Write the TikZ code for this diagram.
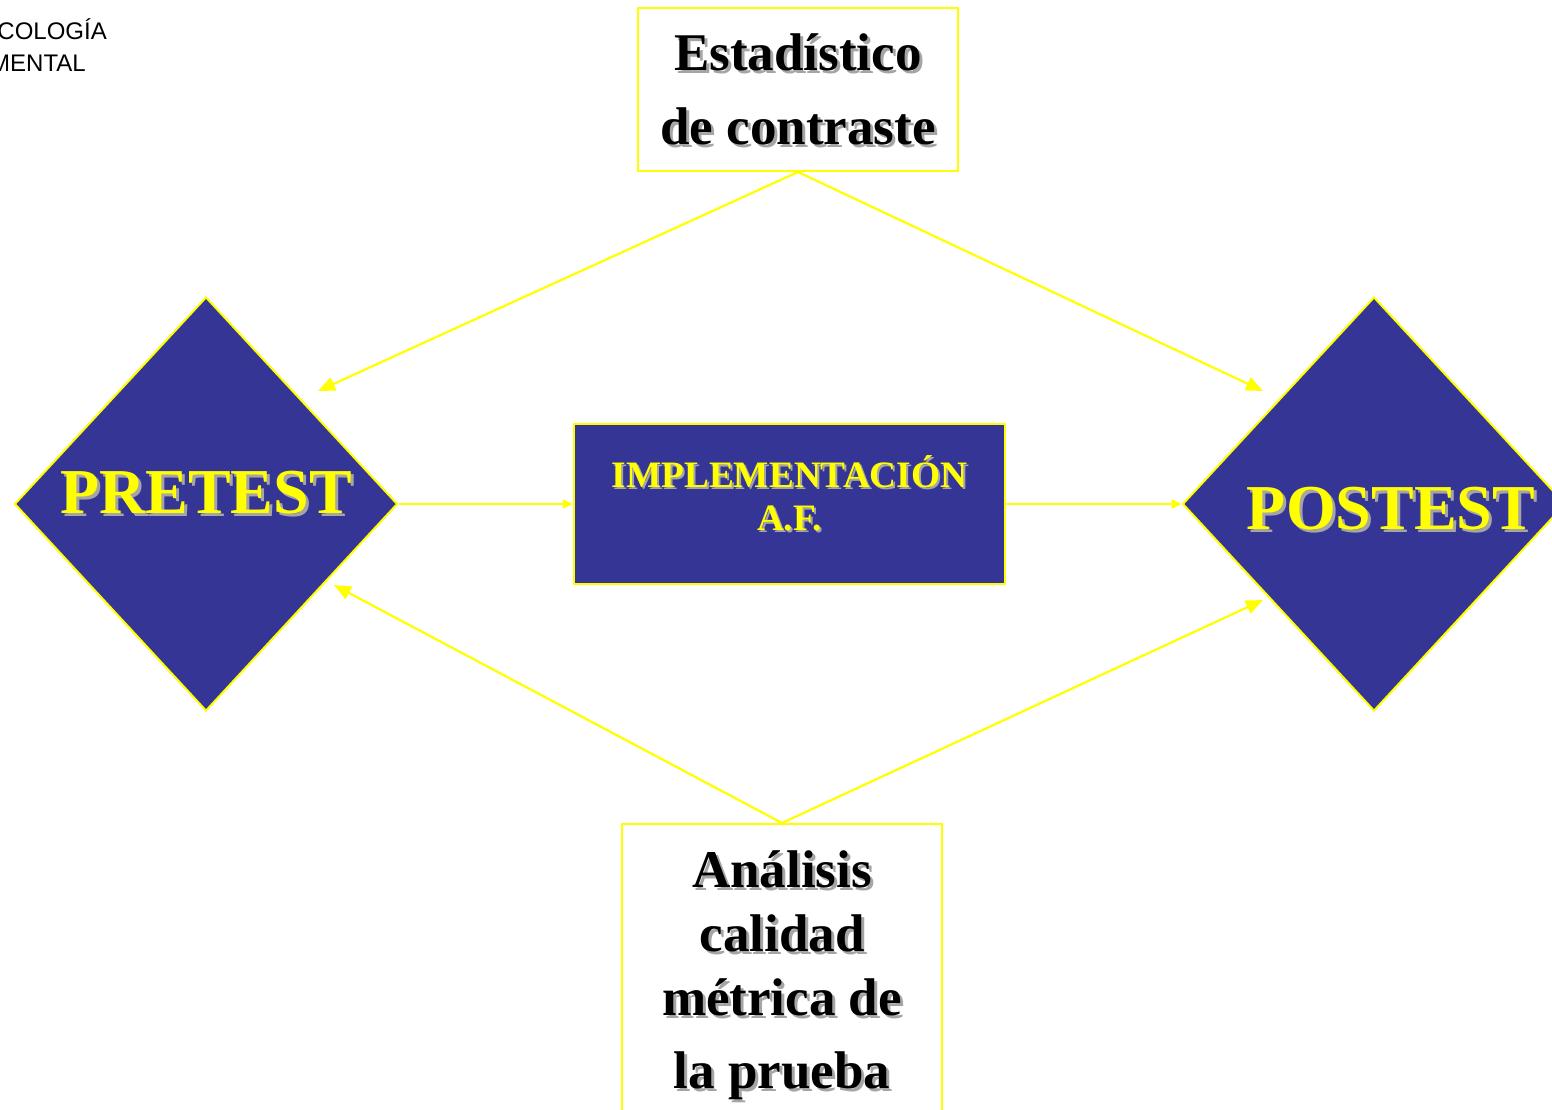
\documentclass[tikz,border=0pt]{standalone}
\usepackage{fontspec}
\setmainfont{Liberation Serif}
\newfontfamily\sansf{Liberation Sans}
\usetikzlibrary{arrows.meta,shapes.geometric}
\definecolor{dblue}{RGB}{53,53,150}
\definecolor{yel}{RGB}{255,255,0}
\definecolor{shgray}{RGB}{165,165,165}
\newcommand\shadowed[3]{\leavevmode\rlap{\kern#2\raisebox{-#2}{\color{shgray}#3}}{\color{#1}#3}}
\tikzset{
  conn/.style={draw=yel, line width=2.2pt},
  bigtip/.style={-{Triangle[length=17pt,width=14pt]}},
  smalltip/.style={-{Triangle[length=10pt,width=9pt]}},
  wbox/.style={draw=yel, line width=2pt, fill=white, rectangle, inner sep=0pt},
  bbox/.style={draw=yel, line width=2.5pt, fill=dblue, rectangle, inner sep=0pt},
  dmd/.style={draw=yel, line width=2pt, fill=dblue, diamond, inner sep=0pt, minimum width=383pt, minimum height=414pt},
  blk/.style={anchor=base, inner sep=0pt, font=\bfseries\fontsize{53}{60}\selectfont},
  ylw/.style={anchor=base, inner sep=0pt, font=\bfseries\fontsize{64}{70}\selectfont},
  ylws/.style={anchor=base, inner sep=0pt, font=\bfseries\fontsize{37.3}{42}\selectfont},
  hdr/.style={anchor=base east, inner sep=0pt, font=\sansf\fontsize{24}{28}\selectfont}
}
\begin{document}
\begin{tikzpicture}[x=1pt,y=-1pt]
\useasboundingbox (0,0) rectangle (1552,1110);
\fill[white] (0,0) rectangle (1552,1110);
\clip (0,0) rectangle (1552,1110);

% header fragment
\node[hdr] (h1) at (107,40) {COLOGÍA};
\node[hdr] (h2) at (86,72) {MENTAL};

% shapes
\node[wbox, minimum width=320pt, minimum height=163pt] (top) at (798,89.5) {};
\node[bbox, minimum width=431pt, minimum height=160pt] (mid) at (789.5,504) {};
\node[wbox, minimum width=320pt, minimum height=330pt] (bot) at (782,989) {};
\node[dmd] (pre) at (206,504) {};
\node[dmd] (post) at (1374,504) {};

% texts
\node[blk] (t1) at (798,71) {\shadowed{black}{3pt}{Estadístico}};
\node[blk] (t2) at (798,145) {\shadowed{black}{3pt}{de contraste}};
\node[blk] (b1) at (782,887) {\shadowed{black}{3pt}{Análisis}};
\node[blk] (b2) at (782,951) {\shadowed{black}{3pt}{calidad}};
\node[blk] (b3) at (782,1015) {\shadowed{black}{3pt}{métrica de}};
\node[blk] (b4) at (782,1088) {\shadowed{black}{3pt}{la prueba}};
\node[ylw] (pret) at (206,513) {\shadowed{yel}{3pt}{PRETEST}};
\node[ylw] (postt) at (1391,529) {\shadowed{yel}{3pt}{POSTEST}};
\node[ylws] (m1) at (789.5,487) {\shadowed{yel}{2pt}{IMPLEMENTACIÓN}};
\node[ylws] (m2) at (789.5,530) {\shadowed{yel}{2pt}{A.F.}};

% arrow end points
\coordinate (e1) at (318,391);
\coordinate (e2) at (1263,391);
\coordinate (e3) at (334,585);
\coordinate (e4) at (1263,600);

% connectors
\draw[conn, bigtip] (top.south) -- (e1);
\draw[conn, bigtip] (top.south) -- (e2);
\draw[conn, bigtip] (bot.north) -- (e3);
\draw[conn, bigtip] (bot.north) -- (e4);
\draw[conn, smalltip] (pre.east) -- (mid.west);
\draw[conn, smalltip] (mid.east) -- (post.west);
\end{tikzpicture}
\end{document}
